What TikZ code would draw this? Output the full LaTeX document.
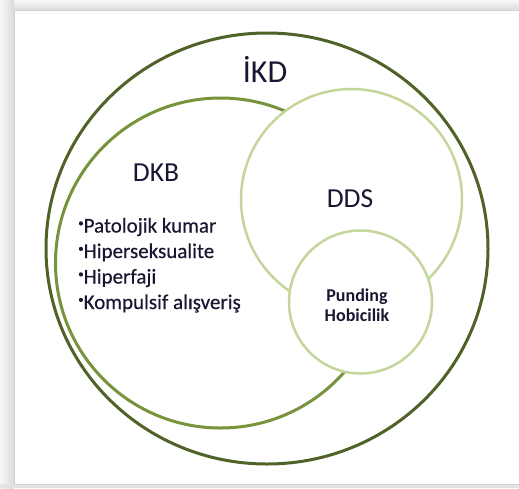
\documentclass[tikz,border=0pt]{standalone}
\usepackage{fontspec}
\setmainfont{Carlito}
\definecolor{darkol}{RGB}{79,98,40}
\definecolor{midol}{RGB}{119,147,60}
\definecolor{lightol}{RGB}{195,214,155}
\definecolor{txt}{RGB}{26,22,50}
\begin{document}
\begin{tikzpicture}[x=1pt,y=-1pt,
  ring/.style={fill=white,line width=#1},
  lbl/.style={inner sep=0pt,text=txt},
  item/.style={lbl,anchor=base west,font=\fontsize{21}{22}\selectfont\addfontfeature{FakeBold=0.4}}]
\useasboundingbox (0,0) rectangle (519,488);
% frame and shadow
\fill[gray!14] (0,0) rectangle (519,488);
\shade[left color=gray!6,right color=gray!28] (0,0) rectangle (14,488);
\shade[top color=gray!6,bottom color=gray!28] (14,0) rectangle (519,10);
\fill[gray!22] (0,484) rectangle (519,488);
\draw[fill=white,draw=gray!35,line width=0.6pt] (14,10) rectangle (521,484);
% circles
\draw[ring=3pt,draw=darkol] (267,248.5) ellipse [x radius=221pt,y radius=215.5pt];
\draw[ring=3pt,draw=midol] (220.5,263) circle [radius=165pt];
\draw[ring=2.5pt,draw=lightol] (351.5,199.5) circle [radius=110.5pt];
\draw[ring=2.5pt,draw=lightol] (360.5,302) circle [radius=71.5pt];
% labels
\node[lbl,anchor=base,font=\fontsize{32}{34}\selectfont] (ikd) at (265,82.3) {İKD};
\node[lbl,anchor=base,font=\fontsize{27.5}{29}\selectfont] (dkb) at (156,181.7) {DKB};
\node[lbl,anchor=base,font=\fontsize{27.5}{29}\selectfont] (dds) at (350,207.7) {DDS};
\newcommand{\bul}{{\fontsize{11}{11}\selectfont\raisebox{6pt}{•}}}
\node[item] (i1) at (78,232.5) {\bul Patolojik kumar};
\node[item] (i2) at (78,258) {\bul Hiperseksualite};
\node[item] (i3) at (78,283.5) {\bul Hiperfaji};
\node[item] (i4) at (78,309) {\bul Kompulsif alışveriş};
\node[lbl,anchor=base,font=\bfseries\fontsize{18}{19}\selectfont] (p1) at (357,301.7) {Punding};
\node[lbl,anchor=base,font=\bfseries\fontsize{18}{19}\selectfont] (p2) at (357,321.7) {Hobicilik};
\end{tikzpicture}
\end{document}
